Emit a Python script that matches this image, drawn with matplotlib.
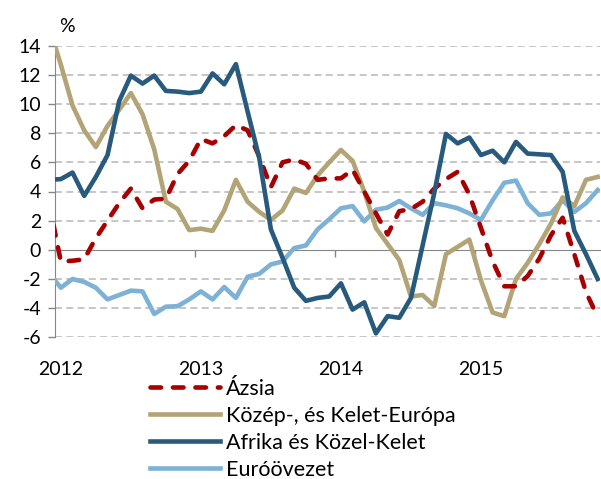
import matplotlib
matplotlib.use("Agg")
import matplotlib.pyplot as plt
import numpy as np

plt.rcParams['font.family'] = ['Lato', 'DejaVu Sans']
plt.rcParams['axes.unicode_minus'] = False

# months from Dec 2011 (clipped at the axis) to Nov 2015, points sit mid-month
months = np.arange(-1, 47) + 0.5

azsia = [3.2, -0.8, -0.75, -0.65, 0.8, 2.0, 3.2, 4.2, 2.85, 3.45, 3.5, 5.2, 6.1,
         7.6, 7.3, 7.8, 8.55, 8.2, 6.4, 4.3, 6.0, 6.2, 5.9, 4.8, 4.9, 4.9, 5.5,
         4.0, 2.5, 1.05, 2.65, 2.8, 3.3, 4.2, 4.85, 5.35, 3.8, 1.5, -0.8, -2.5,
         -2.5, -1.8, -0.6, 1.0, 2.2, -0.3, -2.9, -4.6]
kke = [15.3, 12.7, 9.9, 8.2, 7.05, 8.5, 9.6, 10.75, 9.3, 6.9, 3.3, 2.8, 1.35,
       1.45, 1.3, 2.7, 4.8, 3.3, 2.6, 2.05, 2.7, 4.2, 3.9, 5.1, 6.0, 6.85, 6.1,
       4.0, 1.5, 0.4, -0.7, -3.2, -3.1, -3.85, -0.3, 0.2, 0.7, -2.1, -4.3, -4.55,
       -2.0, -0.9, 0.4, 1.8, 3.6, 3.0, 4.8, 5.0]
afrika = [4.8, 4.85, 5.3, 3.7, 5.0, 6.5, 10.2, 11.95, 11.4, 11.95, 10.9, 10.85,
          10.75, 10.85, 12.1, 11.35, 12.74, 9.5, 6.3, 1.4, -0.55, -2.6, -3.5,
          -3.3, -3.2, -2.3, -4.1, -3.6, -5.73, -4.55, -4.66, -3.3, 0.3, 3.9,
          7.95, 7.3, 7.7, 6.5, 6.8, 6.0, 7.4, 6.6, 6.55, 6.5, 5.35, 1.3, -0.3, -2.0]
euro = [-1.6, -2.6, -2.0, -2.2, -2.6, -3.4, -3.1, -2.8, -2.85, -4.4, -3.9, -3.87,
        -3.4, -2.85, -3.4, -2.55, -3.3, -1.85, -1.65, -1.0, -0.8, 0.12, 0.3, 1.4,
        2.1, 2.85, 3.0, 1.95, 2.75, 2.9, 3.35, 2.85, 2.4, 3.2, 3.05, 2.85, 2.5,
        2.05, 3.4, 4.6, 4.75, 3.2, 2.4, 2.5, 3.4, 2.6, 3.2, 4.1]

names = ["Ázsia", "Közép-, és Kelet-Európa", "Afrika és Közel-Kelet", "Euróövezet"]
years = ["2012", "2013", "2014", "2015"]
year_starts = [0, 12, 24, 36]
yticks = list(range(-6, 15, 2))

fig = plt.figure(figsize=(6.01, 4.79), dpi=100)
ax = fig.add_axes([55 / 601, 1 - 337.3 / 479, 545 / 601, 291.6 / 479])

lw = 3.3
l_eu, = ax.plot(months, euro, color="#7eb1d6", lw=lw, zorder=3)
l_kke, = ax.plot(months, kke, color="#b2a476", lw=lw, zorder=4)
l_az, = ax.plot(months, azsia, color="#a80000", lw=lw, zorder=5,
                dashes=(2.3, 2.6), dash_capstyle="round")
l_af, = ax.plot(months, afrika, color="#285a7d", lw=lw, zorder=6)

ax.set_xlim(0, 46.7)
ax.set_ylim(-6, 14)
ax.set_yticks(yticks)
ax.tick_params(axis="y", labelsize=14, length=5, color="#868686", width=1, pad=5)
ax.grid(axis="y", color="#bfbfbf", lw=1.25, dashes=(4, 2.5))
for tick, line in zip(yticks, ax.yaxis.get_gridlines()):
    if tick == 0:
        line.set_visible(False)

ax.spines["top"].set_visible(False)
ax.spines["right"].set_visible(False)
ax.spines["left"].set_color("#868686")
ax.spines["bottom"].set_color("#868686")
ax.spines["bottom"].set_position(("data", 0))
ax.set_xticks(year_starts)
ax.tick_params(axis="x", length=5, color="#868686", width=1, labelbottom=False)
for s, y in zip(year_starts, years):
    ax.text(s + 0.5, -0.109, y, transform=ax.get_xaxis_transform(),
            ha="center", va="center", fontsize=14)

fig.text(67 / 601, 1 - 26 / 479, "%", ha="center", va="center", fontsize=14)

fig.legend([l_az, l_kke, l_af, l_eu], names, loc="upper left",
           bbox_to_anchor=(150 / 601, 1 - 379 / 479), frameon=False,
           fontsize=15.5, handlelength=3.25, handletextpad=0.28,
           labelspacing=0.32, borderpad=0, borderaxespad=0)

fig.savefig("out.png", dpi=100)
